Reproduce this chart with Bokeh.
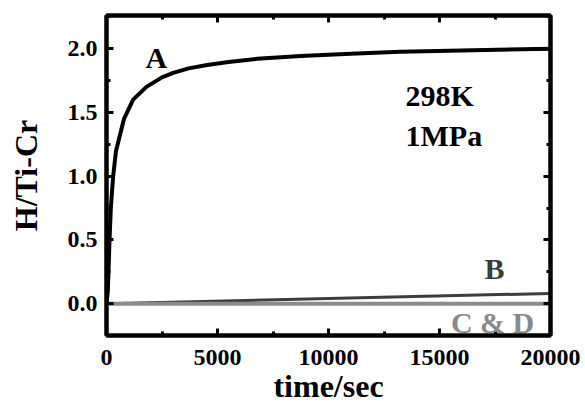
from bokeh.plotting import figure
from bokeh.models import LinearAxis, FixedTicker, NumeralTickFormatter, Range1d, Label
from bokeh.embed import file_html
from bokeh.resources import INLINE

# ---- data ----
time_a = [0, 60, 135, 195, 300, 430, 790, 1200, 1800, 2500, 3000, 3700, 4535, 5500,
          6790, 8740, 11000, 13240, 20000]
h_a = [0.0, 0.1, 0.49, 0.75, 1.0, 1.2, 1.45, 1.6, 1.7, 1.775, 1.81, 1.845, 1.872, 1.895,
       1.92, 1.942, 1.96, 1.975, 2.0]
time_b = [0, 10000, 20000]
h_b = [0.0, 0.04, 0.08]
time_cd = [0, 20000]
h_cd = [0.0, 0.0]

x_major = [0, 5000, 10000, 15000, 20000]
x_minor = [2500, 7500, 12500, 17500]
y_major = [0.0, 0.5, 1.0, 1.5, 2.0]
y_minor = [-0.25, 0.25, 0.75, 1.25, 1.75, 2.25]

FONT = "Liberation Serif"

p = figure(output_backend="svg", toolbar_location=None,
           x_range=Range1d(0, 20000), y_range=Range1d(-0.25, 2.26),
           frame_width=444, frame_height=320,
           min_border_left=106, min_border_right=34, min_border_top=15, min_border_bottom=68,
           x_axis_label="time/sec", y_axis_label="H/Ti-Cr")
p.background_fill_color = "white"
p.border_fill_color = "white"
p.xgrid.visible = False
p.ygrid.visible = False
p.outline_line_color = "black"
p.outline_line_width = 4

xt = FixedTicker(ticks=x_major, minor_ticks=x_minor)
yt = FixedTicker(ticks=y_major, minor_ticks=y_minor)


def style(ax, show_labels=True):
    ax.axis_line_width = 4
    ax.axis_line_color = "black"
    ax.major_tick_in = 7
    ax.major_tick_out = 0
    ax.minor_tick_in = 4
    ax.minor_tick_out = 0
    ax.major_tick_line_width = 3
    ax.minor_tick_line_width = 3
    ax.major_tick_line_color = "black"
    ax.minor_tick_line_color = "black"
    if show_labels:
        ax.major_label_text_font = FONT
        ax.major_label_text_font_style = "bold"
        ax.major_label_text_font_size = "24px"
        ax.major_label_text_color = "black"
        ax.axis_label_text_font = FONT
        ax.axis_label_text_font_style = "bold"
        ax.axis_label_text_color = "black"
    else:
        ax.major_label_text_font_size = "1px"
        ax.major_label_text_color = None
        ax.major_label_standoff = 0


xa = p.xaxis[0]
xa.ticker = xt
style(xa)
xa.major_label_standoff = 14
xa.axis_label_text_font_size = "32px"
xa.axis_label_standoff = 0

ya = p.yaxis[0]
ya.ticker = yt
ya.formatter = NumeralTickFormatter(format="0.0")
style(ya)
ya.major_label_standoff = 9
ya.axis_label_text_font_size = "32px"
ya.axis_label_standoff = 21

top = LinearAxis(ticker=xt)
style(top, False)
p.add_layout(top, "above")
right = LinearAxis(ticker=yt)
style(right, False)
p.add_layout(right, "right")

# ---- curves ----
p.line(time_a, h_a, line_color="black", line_width=4, line_join="round")
p.line(time_b, h_b, line_color="#3c3c3c", line_width=3)
p.line(time_cd, h_cd, line_color="#8a8a8a", line_width=4)

# ---- annotations ----
def txt(x, y, s, color="black", align="left", size="30px"):
    p.add_layout(Label(x=x, y=y, text=s, text_color=color, text_align=align,
                       text_baseline="middle", text_font=FONT,
                       text_font_style="bold", text_font_size=size))

txt(2250, 1.93, "A", align="center")
txt(13470, 1.631, "298K")
txt(13470, 1.318, "1MPa")
txt(17480, 0.275, "B", color="#3c3c3c", align="center")
txt(17390, -0.149, "C & D", color="#8a8a8a", align="center")

open("out.html", "w").write(file_html(p, INLINE))
